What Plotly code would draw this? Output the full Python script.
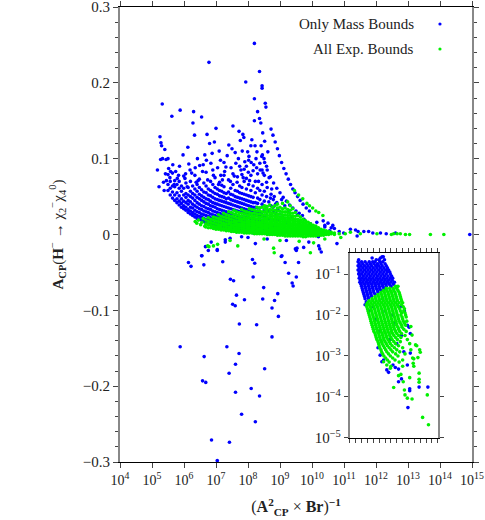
import plotly.graph_objects as go

# main panel: x given as log10 of (A_CP^2 x Br)^-1, y is A_CP
mass_scatter = [
    (5.17, 0.085), (5.22, 0.063), (5.25, 0.129), (5.28, 0.121), (5.30, 0.117), (5.33, 0.100),
    (5.27, 0.099), (5.36, 0.069), (5.32, 0.172), (5.40, 0.112), (5.42, 0.080), (5.38, 0.058),
    (5.44, 0.099), (5.50, 0.100), (5.52, 0.087), (5.56, 0.075), (5.62, 0.156), (5.65, 0.092),
    (5.74, 0.083), (5.79, 0.074), (5.86, 0.090), (5.88, 0.164), (5.97, 0.105), (6.03, 0.074),
    (6.12, 0.115), (6.15, 0.093), (6.24, 0.081), (6.28, 0.147), (6.30, 0.162), (6.33, 0.131),
    (6.42, 0.100), (6.44, 0.071), (6.55, 0.155), (6.58, 0.083), (6.65, 0.105), (6.72, 0.132),
    (6.74, 0.072), (6.78, 0.227), (6.80, 0.120), (6.84, 0.094), (6.92, 0.078), (6.95, 0.122),
    (7.00, 0.140), (7.05, 0.088), (7.14, 0.098), (7.20, 0.072), (7.27, 0.083), (7.35, 0.104),
    (7.47, 0.088), (7.53, 0.143), (7.57, 0.077), (7.62, 0.094), (7.72, 0.136), (7.76, 0.124),
    (7.78, 0.085), (7.84, 0.132), (7.87, 0.128), (7.90, 0.096), (7.93, 0.201), (7.99, 0.109),
    (8.01, 0.082), (8.03, 0.103), (8.09, 0.117), (8.12, 0.125), (8.18, 0.092), (8.20, 0.252),
    (8.20, 0.179), (8.20, 0.150), (8.22, 0.117), (8.28, 0.109), (8.30, 0.162), (8.36, 0.215),
    (8.36, 0.153), (8.38, 0.085), (8.40, 0.147), (8.41, 0.117), (8.43, 0.103), (8.44, 0.196),
    (8.44, 0.193), (8.46, 0.134), (8.52, 0.123), (8.54, 0.173), (8.56, 0.168), (8.58, 0.090),
    (8.62, 0.109), (8.66, 0.075),
    (6.90, 0.085), (7.10, 0.110), (7.25, 0.095), (7.40, 0.118), (7.60, 0.108), (7.70, 0.100),
    (7.95, 0.090), (8.10, 0.095), (8.25, 0.100), (8.50, 0.100), (6.60, 0.092), (6.35, 0.088),
    (6.05, 0.080), (7.15, 0.078), (7.45, 0.070), (7.85, 0.075), (8.33, 0.070), (8.60, 0.062),
    (5.45, 0.071), (5.58, 0.083), (5.69, 0.066), (5.83, 0.078), (6.10, 0.063), (6.19, 0.085),
    (6.38, 0.069), (6.49, 0.091), (6.70, 0.098), (6.88, 0.107), (7.08, 0.066), (7.31, 0.089),
    (7.50, 0.113), (7.66, 0.069), (7.82, 0.110), (8.05, 0.071), (8.27, 0.088), (8.47, 0.081),
    # outer arc
    (8.72, 0.139), (8.78, 0.131), (8.85, 0.122), (8.92, 0.113), (8.98, 0.104), (9.05, 0.095),
    (9.12, 0.087), (9.19, 0.080), (9.26, 0.073), (9.33, 0.066), (9.40, 0.060), (9.47, 0.055),
    (9.55, 0.050), (9.63, 0.045), (9.72, 0.040), (9.82, 0.035), (9.92, 0.031), (10.35, 0.018),
    (10.50, 0.015), (10.65, 0.012),
    # inner arc
    (8.45, 0.105), (8.52, 0.095), (8.60, 0.085), (8.70, 0.076), (8.80, 0.068), (8.90, 0.061),
    (9.00, 0.055), (9.10, 0.049), (9.20, 0.044), (9.30, 0.039), (9.40, 0.035), (9.50, 0.031),
    (9.60, 0.028), (9.70, 0.025),
    (8.70, 0.048), (8.74, 0.060), (8.78, 0.036), (8.82, 0.050), (8.86, 0.028), (8.90, 0.042),
    (8.95, 0.020), (9.05, 0.046), (9.15, 0.038), (9.25, 0.030), (9.35, 0.022), (9.55, 0.026),
    (9.65, 0.012), (9.75, 0.020), (9.85, 0.010), (9.95, 0.014), (10.05, 0.008), (10.15, 0.016),
    (10.25, 0.006), (10.40, 0.010), (10.55, 0.005), (10.70, 0.008), (10.85, 0.004), (9.60, 0.015),
    (9.90, 0.005), (10.20, -0.003), (10.40, 0.012),
    (10.99, 0.002), (11.20, 0.007), (11.36, 0.006), (11.41, -0.002), (11.44, 0.004), (11.62, 0.004),
    (11.77, 0.004), (11.90, 0.002), (12.14, 0.002), (12.32, 0.001), (12.61, 0.002), (14.93, 0.000),
    (10.78, -0.012), (10.60, 0.009),
    # negative side
    (6.14, -0.037), (6.22, -0.042), (6.55, -0.028), (6.62, -0.040), (6.76, -0.021), (7.04, -0.021),
    (7.21, -0.036), (7.45, -0.059), (7.55, -0.061), (7.64, -0.080), (7.52, -0.092), (7.60, -0.094),
    (7.89, -0.086), (7.73, -0.118), (8.14, -0.033), (8.21, -0.038), (8.16, -0.056), (8.49, -0.070),
    (8.27, -0.119), (8.46, -0.085), (8.83, -0.087), (8.93, -0.078), (8.75, -0.097), (8.95, -0.108),
    (8.75, -0.135), (9.04, -0.029), (9.16, -0.037), (9.27, -0.051), (9.38, -0.064), (9.41, -0.068),
    (9.51, -0.056), (9.58, -0.037), (9.51, -0.021), (10.29, -0.023), (5.88, -0.148), (6.63, -0.161),
    (6.58, -0.193), (6.68, -0.195), (6.86, -0.271), (7.04, -0.298), (7.42, -0.274), (7.34, -0.148),
    (7.41, -0.183), (7.72, -0.157), (7.61, -0.171), (7.61, -0.208), (7.80, -0.237), (8.10, -0.203),
    (8.36, -0.213), (8.23, -0.247), (8.52, -0.177),
    (6.67, -0.016), (6.85, -0.010), (7.29, -0.007), (7.44, -0.005), (9.53, -0.018), (7.04, -0.020),
    (6.56, -0.028), (7.29, -0.010), (9.06, -0.028), (8.23, -0.012), (9.48, -0.019), (9.74, -0.017),
    (10.21, -0.015), (10.24, -0.019), (8.00, -0.004), (8.60, -0.006), (9.20, -0.008), (9.90, -0.010),
    (7.80, -0.003),
]

mass_band = {
    5.50: [0.058, 0.066, 0.079],
    5.57: [0.052, 0.061, 0.070],
    5.64: [0.048, 0.056, 0.064, 0.081],
    5.71: [0.045, 0.052, 0.063, 0.071],
    5.78: [0.042, 0.047, 0.055, 0.066],
    5.85: [0.039, 0.044, 0.051, 0.061, 0.070],
    5.92: [0.036, 0.041, 0.047, 0.057, 0.064],
    5.99: [0.034, 0.038, 0.044, 0.052, 0.061, 0.077],
    6.06: [0.032, 0.036, 0.042, 0.049, 0.054, 0.068],
    6.13: [0.029, 0.033, 0.040, 0.045, 0.052, 0.062],
    6.20: [0.027, 0.031, 0.036, 0.043, 0.050, 0.057, 0.070],
    6.27: [0.025, 0.029, 0.035, 0.040, 0.048, 0.054, 0.064],
    6.34: [0.023, 0.027, 0.032, 0.038, 0.045, 0.052, 0.060, 0.078],
    6.41: [0.021, 0.025, 0.030, 0.036, 0.042, 0.049, 0.057, 0.066],
    6.48: [0.020, 0.024, 0.029, 0.034, 0.040, 0.047, 0.053, 0.062, 0.073],
    6.55: [0.019, 0.023, 0.027, 0.033, 0.038, 0.045, 0.051, 0.059],
    6.62: [0.017, 0.021, 0.026, 0.031, 0.037, 0.043, 0.049, 0.056, 0.068],
    6.69: [0.016, 0.020, 0.025, 0.030, 0.035, 0.041, 0.047, 0.055, 0.064, 0.082],
    6.76: [0.014, 0.019, 0.024, 0.029, 0.034, 0.040, 0.046, 0.052, 0.060],
    6.83: [0.013, 0.018, 0.022, 0.027, 0.033, 0.038, 0.044, 0.051, 0.058, 0.070],
    6.90: [0.012, 0.016, 0.021, 0.026, 0.031, 0.037, 0.042, 0.049, 0.056, 0.066],
    6.97: [0.011, 0.015, 0.020, 0.025, 0.030, 0.036, 0.041, 0.047, 0.054, 0.062, 0.075],
    7.04: [0.010, 0.014, 0.019, 0.024, 0.029, 0.034, 0.040, 0.046, 0.053, 0.060],
    7.11: [0.009, 0.013, 0.018, 0.023, 0.028, 0.033, 0.039, 0.045, 0.051, 0.058, 0.069],
    7.18: [0.008, 0.012, 0.017, 0.022, 0.027, 0.032, 0.038, 0.044, 0.050, 0.057, 0.065],
    7.25: [0.008, 0.011, 0.016, 0.021, 0.026, 0.031, 0.037, 0.043, 0.049, 0.055, 0.063, 0.078],
    7.32: [0.007, 0.011, 0.015, 0.020, 0.025, 0.030, 0.036, 0.042, 0.047, 0.054],
    7.39: [0.006, 0.010, 0.014, 0.019, 0.024, 0.029, 0.035, 0.041, 0.048, 0.056, 0.072],
    7.46: [0.006, 0.009, 0.013, 0.018, 0.023, 0.028, 0.034, 0.040, 0.046, 0.053, 0.061],
    7.53: [0.005, 0.009, 0.013, 0.017, 0.022, 0.027, 0.033, 0.039, 0.045, 0.052, 0.066, 0.080],
    7.60: [0.005, 0.008, 0.012, 0.016, 0.021, 0.026, 0.032, 0.038, 0.044, 0.050, 0.058],
    7.67: [0.004, 0.008, 0.011, 0.016, 0.020, 0.025, 0.031, 0.037, 0.043, 0.049, 0.057, 0.076],
    7.74: [0.004, 0.007, 0.011, 0.015, 0.019, 0.024, 0.030, 0.036, 0.042, 0.048, 0.055, 0.064, 0.090],
    7.81: [0.004, 0.007, 0.010, 0.014, 0.019, 0.024, 0.029, 0.035, 0.041, 0.047, 0.054, 0.062, 0.079],
    7.88: [0.003, 0.006, 0.010, 0.014, 0.018, 0.023, 0.028, 0.034, 0.040, 0.046, 0.053, 0.070, 0.086],
    7.95: [0.003, 0.006, 0.009, 0.013, 0.018, 0.022, 0.027, 0.033, 0.039, 0.045, 0.052, 0.060, 0.074],
    8.02: [0.003, 0.006, 0.009, 0.013, 0.017, 0.022, 0.027, 0.032, 0.038, 0.044, 0.051, 0.066, 0.098],
    8.09: [0.003, 0.005, 0.009, 0.012, 0.017, 0.021, 0.026, 0.031, 0.037, 0.043, 0.050, 0.058, 0.078],
    8.16: [0.002, 0.005, 0.008, 0.012, 0.016, 0.021, 0.026, 0.031, 0.036, 0.042, 0.049, 0.064, 0.084],
    8.23: [0.002, 0.005, 0.008, 0.011, 0.016, 0.020, 0.025, 0.030, 0.036, 0.042, 0.055, 0.070],
    8.30: [0.002, 0.005, 0.008, 0.011, 0.015, 0.020, 0.025, 0.030, 0.035, 0.041, 0.048, 0.061, 0.080],
    8.37: [0.002, 0.004, 0.007, 0.011, 0.015, 0.019, 0.024, 0.029, 0.035, 0.046, 0.058, 0.094],
    8.44: [0.002, 0.004, 0.007, 0.010, 0.014, 0.019, 0.024, 0.029, 0.040, 0.052, 0.066, 0.085],
    8.51: [0.002, 0.004, 0.007, 0.010, 0.014, 0.018, 0.023, 0.033, 0.044, 0.057, 0.078],
    8.58: [0.002, 0.004, 0.007, 0.010, 0.013, 0.018, 0.026, 0.037, 0.050, 0.069],
    8.65: [0.001, 0.004, 0.006, 0.009, 0.013, 0.020, 0.031, 0.043],
    8.72: [0.001, 0.003, 0.006, 0.009, 0.015, 0.025, 0.038, 0.053],
    8.79: [0.001, 0.003, 0.006, 0.011, 0.019, 0.030, 0.046],
    8.86: [0.001, 0.003, 0.008, 0.015, 0.024, 0.040],
    8.93: [0.001, 0.004, 0.010, 0.019, 0.033],
    9.00: [0.001, 0.006, 0.014, 0.027],
    9.10: [0.002, 0.009, 0.022],
    9.20: [0.004, 0.016],
    9.30: [0.002, 0.011],
    9.40: [0.007],
    9.50: [0.004],
}

exp_scatter = [
    (6.35, 0.017), (6.40, 0.015), (6.45, 0.019), (6.52, 0.013), (6.56, 0.016), (6.60, 0.021),
    (6.65, 0.011),
    (9.45, 0.058), (9.58, 0.052), (9.71, 0.047), (9.84, 0.041), (9.92, 0.038), (10.02, 0.035),
    (10.12, 0.031), (10.21, 0.029), (10.34, 0.025),
    (6.74, -0.015), (6.78, -0.016), (6.92, -0.015), (7.05, -0.013), (7.44, -0.008), (7.68, -0.015),
    (8.80, -0.018), (8.82, -0.024), (9.95, -0.024), (10.05, -0.011), (8.50, -0.006), (9.00, -0.008),
    (9.60, -0.009), (10.40, -0.006), (10.90, -0.004),
    (11.04, 0.001), (11.20, 0.003), (11.51, 0.001), (12.03, 0.001), (12.48, 0.000), (12.55, 0.001),
    (12.66, 0.001), (12.76, 0.001), (12.92, 0.000), (13.05, 0.000), (13.70, 0.000), (14.12, 0.000),
]

exp_band = {
    6.68: [0.010, 0.014, 0.019],
    6.76: [0.009, 0.013, 0.017, 0.022],
    6.84: [0.009, 0.012, 0.016, 0.020],
    6.92: [0.008, 0.011, 0.015, 0.019, 0.023],
    7.00: [0.007, 0.010, 0.014, 0.018, 0.022],
    7.08: [0.007, 0.010, 0.013, 0.017, 0.021, 0.026],
    7.16: [0.006, 0.009, 0.012, 0.016, 0.020, 0.024],
    7.24: [0.006, 0.008, 0.012, 0.015, 0.019, 0.023, 0.028],
    7.32: [0.005, 0.008, 0.011, 0.014, 0.018, 0.022, 0.026],
    7.40: [0.005, 0.007, 0.010, 0.014, 0.017, 0.021, 0.025, 0.030],
    7.48: [0.004, 0.007, 0.010, 0.013, 0.016, 0.020, 0.024, 0.029],
    7.56: [0.004, 0.006, 0.009, 0.012, 0.016, 0.019, 0.023, 0.027, 0.032],
    7.64: [0.003, 0.006, 0.009, 0.012, 0.015, 0.018, 0.022, 0.026, 0.030],
    7.72: [0.003, 0.005, 0.008, 0.011, 0.014, 0.018, 0.021, 0.025, 0.029],
    7.80: [0.003, 0.005, 0.008, 0.011, 0.014, 0.017, 0.020, 0.024, 0.028, 0.033],
    7.88: [0.002, 0.005, 0.007, 0.010, 0.013, 0.016, 0.020, 0.023, 0.027, 0.031],
    7.96: [0.002, 0.004, 0.007, 0.010, 0.013, 0.016, 0.019, 0.022, 0.026, 0.030],
    8.04: [0.002, 0.004, 0.007, 0.009, 0.012, 0.015, 0.018, 0.022, 0.025, 0.029, 0.034],
    8.12: [0.002, 0.004, 0.006, 0.009, 0.012, 0.015, 0.018, 0.021, 0.025, 0.028, 0.033],
    8.20: [0.001, 0.004, 0.006, 0.009, 0.011, 0.014, 0.017, 0.021, 0.024, 0.028, 0.032],
    8.28: [0.001, 0.003, 0.006, 0.008, 0.011, 0.014, 0.017, 0.020, 0.024, 0.027, 0.031, 0.036],
    8.36: [0.001, 0.003, 0.006, 0.008, 0.011, 0.014, 0.016, 0.020, 0.023, 0.027, 0.031, 0.035],
    8.44: [0.001, 0.003, 0.005, 0.008, 0.010, 0.013, 0.016, 0.019, 0.023, 0.026, 0.030, 0.036],
    8.52: [0.001, 0.003, 0.005, 0.008, 0.010, 0.013, 0.016, 0.019, 0.022, 0.026, 0.030, 0.034, 0.038],
    8.60: [0.000, 0.003, 0.005, 0.007, 0.010, 0.013, 0.016, 0.019, 0.022, 0.025, 0.029, 0.033, 0.037],
    8.68: [0.000, 0.002, 0.005, 0.007, 0.010, 0.012, 0.015, 0.018, 0.022, 0.025, 0.029, 0.033, 0.039],
    8.76: [0.000, 0.002, 0.005, 0.007, 0.009, 0.012, 0.015, 0.018, 0.021, 0.025, 0.028, 0.032, 0.036],
    8.84: [0.000, 0.002, 0.004, 0.007, 0.009, 0.012, 0.015, 0.018, 0.021, 0.024, 0.028, 0.032, 0.038],
    8.92: [-0.001, 0.002, 0.004, 0.007, 0.009, 0.012, 0.014, 0.017, 0.021, 0.024, 0.027, 0.031, 0.035, 0.040],
    9.00: [-0.001, 0.002, 0.004, 0.006, 0.009, 0.011, 0.014, 0.017, 0.020, 0.023, 0.027, 0.031, 0.036],
    9.08: [-0.001, 0.002, 0.004, 0.006, 0.009, 0.011, 0.014, 0.017, 0.020, 0.023, 0.026, 0.030, 0.034, 0.041],
    9.16: [-0.002, 0.001, 0.004, 0.006, 0.008, 0.011, 0.013, 0.016, 0.019, 0.022, 0.026, 0.030, 0.035],
    9.24: [-0.002, 0.001, 0.003, 0.006, 0.008, 0.010, 0.013, 0.016, 0.019, 0.022, 0.025, 0.029, 0.033, 0.043],
    9.32: [-0.002, 0.001, 0.003, 0.005, 0.008, 0.010, 0.013, 0.015, 0.018, 0.021, 0.025, 0.028, 0.032, 0.038],
    9.40: [-0.002, 0.001, 0.003, 0.005, 0.007, 0.010, 0.012, 0.015, 0.018, 0.021, 0.024, 0.028, 0.034],
    9.48: [-0.002, 0.001, 0.003, 0.005, 0.007, 0.009, 0.012, 0.014, 0.017, 0.020, 0.024, 0.029],
    9.56: [-0.002, 0.000, 0.002, 0.005, 0.007, 0.009, 0.011, 0.014, 0.017, 0.020, 0.025],
    9.64: [-0.002, 0.000, 0.002, 0.004, 0.006, 0.009, 0.011, 0.013, 0.016, 0.019, 0.023],
    9.72: [-0.003, 0.000, 0.002, 0.004, 0.006, 0.008, 0.010, 0.013, 0.016, 0.020],
    9.80: [-0.003, 0.000, 0.002, 0.004, 0.006, 0.008, 0.010, 0.012, 0.015, 0.018],
    9.88: [-0.002, 0.000, 0.002, 0.004, 0.005, 0.007, 0.009, 0.012, 0.016],
    9.96: [-0.002, 0.000, 0.002, 0.003, 0.005, 0.007, 0.009, 0.011, 0.014],
    10.04: [-0.002, 0.000, 0.001, 0.003, 0.005, 0.007, 0.009, 0.012],
    10.12: [-0.002, 0.000, 0.001, 0.003, 0.005, 0.006, 0.008, 0.011],
    10.20: [-0.001, 0.000, 0.001, 0.003, 0.004, 0.006, 0.009],
    10.28: [-0.001, 0.000, 0.002, 0.003, 0.004, 0.007],
    10.36: [-0.001, 0.001, 0.002, 0.004, 0.006],
    10.44: [0.000, 0.001, 0.003, 0.005],
    10.52: [0.000, 0.002, 0.004],
    10.60: [0.001, 0.003],
    10.70: [0.000, 0.002],
    10.85: [0.001],
}

# inset: rows keyed by log10|A_CP|, values are positions along the (unlabelled) x axis
inset_mass_rows = {
    -0.58: [5.7, 5.5],
    -0.61: [3.8, 5.2],
    -0.65: [1.5, 4.5, 5.0, 5.9],
    -0.70: [1.4, 2.0, 2.6, 3.3, 3.9, 4.3, 5.1, 5.6],
    -0.75: [1.6, 2.2, 2.9, 3.5, 4.1, 4.7, 5.3, 6.0],
    -0.80: [1.4, 1.9, 2.5, 3.1, 3.7, 4.4, 4.9, 5.5, 6.2],
    -0.85: [1.6, 2.2, 2.8, 3.4, 4.0, 4.6, 5.2, 5.8, 6.4],
    -0.90: [1.4, 1.9, 2.5, 3.1, 3.7, 4.3, 4.9, 5.5, 6.1, 6.6],
    -0.95: [1.6, 2.2, 2.8, 3.4, 4.0, 4.6, 5.2, 5.8, 6.4, 6.8],
    -1.00: [1.5, 2.0, 2.6, 3.2, 3.8, 4.4, 5.0, 5.6, 6.2, 6.9],
    -1.05: [1.7, 2.3, 2.9, 3.5, 4.1, 4.7, 5.3, 5.9, 6.5, 7.1],
    -1.10: [1.6, 2.1, 2.7, 3.3, 3.9, 4.5, 5.1, 5.7, 6.3, 6.9, 7.3],
    -1.15: [1.8, 2.4, 3.0, 3.6, 4.2, 4.8, 5.4, 6.0, 6.6, 7.2],
    -1.20: [1.7, 2.2, 2.8, 3.4, 4.0, 4.6, 5.2, 5.8, 6.4, 7.0, 7.6],
    -1.25: [1.9, 2.5, 3.1, 3.7, 4.3, 4.9, 5.5, 6.1, 6.7, 7.4],
    -1.30: [2.0, 2.6, 3.2, 3.8, 4.4, 5.0, 5.6, 6.2, 7.0],
    -1.35: [2.1, 2.7, 3.3, 3.9, 4.5, 5.1, 5.8],
    -1.40: [2.2, 2.8, 3.4, 4.0, 4.7, 5.3],
    -1.45: [2.3, 2.9, 3.5, 4.1, 4.8],
    -1.50: [2.4, 3.0, 3.6, 4.3],
    -1.55: [2.5, 3.1, 3.7],
    -1.60: [2.6, 3.2],
    -1.68: [2.8],
}

inset_mass_scatter = [
    (3.2, -1.9), (4.5, -2.1), (6.0, -1.9), (7.5, -2.2), (8.6, -1.8), (9.3, -1.9), (9.8, -2.25),
    (10.1, -2.3), (5.0, -2.4), (6.8, -2.6), (8.8, -2.5), (10.3, -2.45), (9.2, -2.9), (4.8, -2.8),
    (5.17, -2.98), (5.46, -3.14), (5.75, -3.10), (6.3, -3.34), (6.6, -3.40), (7.35, -3.22),
    (7.75, -3.28), (8.3, -3.32), (8.3, -3.63), (8.8, -3.56), (9.8, -3.22), (10.3, -2.93),
    (9.9, -4.26), (10.2, -3.80), (10.2, -3.85), (11.8, -3.76), (13.3, -3.76), (7.2, -2.0),
    (8.0, -2.7), (2.6, -1.75), (5.6, -1.6), (4.0, -1.8),
]

inset_exp_rows = {
    -1.30: [7.8, 8.2],
    -1.35: [6.2, 6.8, 7.4, 8.0],
    -1.40: [5.7, 6.3, 6.9, 7.5, 8.2],
    -1.45: [5.3, 5.9, 6.5, 7.1, 7.7, 8.4],
    -1.50: [4.8, 5.4, 6.0, 6.6, 7.2, 7.8, 8.5],
    -1.55: [4.3, 4.9, 5.5, 6.1, 6.7, 7.3, 7.9, 8.6],
    -1.60: [3.8, 4.4, 5.0, 5.6, 6.2, 6.8, 7.4, 8.0, 8.7],
    -1.65: [3.3, 3.9, 4.5, 5.1, 5.7, 6.3, 6.9, 7.5, 8.1, 8.8],
    -1.70: [3.0, 3.6, 4.2, 4.8, 5.4, 6.0, 6.6, 7.2, 7.8, 8.4, 9.0],
    -1.75: [2.8, 3.3, 3.9, 4.5, 5.1, 5.7, 6.3, 6.9, 7.5, 8.1, 8.8],
    -1.80: [2.9, 3.5, 4.1, 4.7, 5.3, 5.9, 6.5, 7.1, 7.7, 8.3, 9.1],
    -1.85: [3.0, 3.6, 4.2, 4.8, 5.4, 6.0, 6.6, 7.2, 7.8, 8.5, 9.3],
    -1.90: [3.1, 3.7, 4.3, 4.9, 5.5, 6.1, 6.7, 7.3, 7.9, 8.6, 9.2],
    -1.95: [3.2, 3.8, 4.4, 5.0, 5.6, 6.2, 6.8, 7.4, 8.0, 8.8, 9.4],
    -2.00: [3.3, 3.9, 4.5, 5.1, 5.7, 6.3, 6.9, 7.5, 8.1, 8.7, 9.5],
    -2.05: [3.4, 4.0, 4.6, 5.2, 5.8, 6.4, 7.0, 7.6, 8.2, 8.9, 9.6],
    -2.10: [3.5, 4.1, 4.7, 5.3, 5.9, 6.5, 7.1, 7.7, 8.3, 9.0],
    -2.15: [3.6, 4.2, 4.8, 5.4, 6.0, 6.6, 7.2, 7.8, 8.4, 9.1, 9.7],
    -2.20: [3.7, 4.3, 4.9, 5.5, 6.1, 6.7, 7.3, 7.9, 8.6, 9.3],
    -2.25: [3.8, 4.4, 5.0, 5.6, 6.2, 6.8, 7.4, 8.0, 8.8, 9.5],
    -2.30: [3.9, 4.5, 5.1, 5.7, 6.3, 6.9, 7.5, 8.2, 8.9],
    -2.35: [4.0, 4.6, 5.2, 5.8, 6.4, 7.0, 7.6, 8.3, 9.2],
    -2.40: [4.1, 4.7, 5.3, 5.9, 6.5, 7.1, 7.8, 8.5, 9.6],
    -2.45: [4.3, 4.9, 5.5, 6.1, 6.7, 7.3, 8.0, 8.8],
    -2.50: [4.4, 5.0, 5.6, 6.2, 6.8, 7.5, 8.3, 9.4],
    -2.55: [4.5, 5.1, 5.7, 6.3, 7.0, 7.8, 8.7],
    -2.60: [4.6, 5.2, 5.8, 6.5, 7.2, 8.1, 9.8],
    -2.65: [4.8, 5.4, 6.0, 6.7, 7.5, 8.6],
    -2.70: [4.9, 5.5, 6.2, 6.9, 7.8, 10.2],
    -2.75: [5.0, 5.7, 6.4, 7.2, 8.3],
    -2.80: [5.1, 5.9, 6.7, 7.6, 9.0],
    -2.85: [5.3, 6.1, 7.0, 8.0, 10.4],
    -2.90: [5.4, 6.3, 7.3, 8.5],
    -2.95: [5.6, 6.6, 7.8, 9.4],
    -3.00: [5.8, 6.9, 8.2],
    -3.05: [6.1, 7.3, 10.7],
    -3.10: [6.4, 7.7, 9.0],
    -3.15: [6.7, 8.4],
    -3.25: [7.0, 9.0, 10.9],
}

inset_exp_scatter = [
    (7.47, -3.77), (8.3, -3.48), (8.7, -3.45), (9.1, -3.63), (9.3, -3.83), (9.4, -3.95),
    (9.8, -4.03), (10.6, -4.05), (10.2, -3.53), (11.8, -3.42), (11.8, -3.57), (11.8, -3.64),
    (13.2, -3.95), (12.4, -4.50), (13.4, -4.68), (10.8, -3.18), (10.9, -3.07), (11.9, -2.85),
    (12.0, -2.91), (11.6, -3.04), (11.2, -2.73), (11.4, -2.75), (6.3, -3.22), (5.75, -3.14),
    (6.9, -3.30), (10.6, -2.49), (10.4, -2.28),
]

acp_ticks = [-0.3, -0.2, -0.1, 0, 0.1, 0.2, 0.3]
acp_labels = ["−0.3", "−0.2", "−0.1", "0", "0.1", "0.2", "0.3"]
x_decades = list(range(4, 16))
inset_decades = [-5, -4, -3, -2, -1]

BLUE = "#0000ff"
GREEN = "#00f000"
FONT = "Liberation Serif"


def unpack(points, columns):
    xs = [p[0] for p in points]
    ys = [p[1] for p in points]
    for x, vals in columns.items():
        for v in vals:
            xs.append(x)
            ys.append(v)
    return xs, ys


def unpack_rows(points, rows):
    xs = [p[0] for p in points]
    ys = [p[1] for p in points]
    for y, vals in rows.items():
        for v in vals:
            xs.append(v)
            ys.append(y)
    return xs, ys


def power_label(n):
    return "10<sup>" + str(n).replace("-", "−") + "</sup>"


mx, my = unpack(mass_scatter, mass_band)
ex, ey = unpack(exp_scatter, exp_band)
imx, imy = unpack_rows(inset_mass_scatter, inset_mass_rows)
iex, iey = unpack_rows(inset_exp_scatter, inset_exp_rows)

fig = go.Figure()
fig.add_trace(go.Scatter(x=[10 ** v for v in mx], y=my, mode="markers",
                         marker=dict(color=BLUE, size=3.6), showlegend=False))
fig.add_trace(go.Scatter(x=[10 ** v for v in ex], y=ey, mode="markers",
                         marker=dict(color=GREEN, size=3.6), showlegend=False))
fig.add_trace(go.Scatter(x=imx, y=[10 ** v for v in imy], mode="markers",
                         marker=dict(color=BLUE, size=3.6), showlegend=False,
                         xaxis="x2", yaxis="y2"))
fig.add_trace(go.Scatter(x=iex, y=[10 ** v for v in iey], mode="markers",
                         marker=dict(color=GREEN, size=3.6), showlegend=False,
                         xaxis="x2", yaxis="y2"))

fig.update_layout(
    width=485, height=520,
    margin=dict(l=120, r=13, t=7, b=58),
    paper_bgcolor="white", plot_bgcolor="white",
    font=dict(family=FONT, size=15, color="#222"),
    xaxis=dict(
        type="log", range=[4, 15], automargin=False,
        tickvals=[10 ** d for d in x_decades], ticktext=[power_label(d) for d in x_decades],
        tickangle=0, tickfont=dict(size=14), ticklabeloverflow="allow",
        showgrid=False, zeroline=False,
        showline=True, linecolor="black", linewidth=1, mirror="allticks",
        ticks="outside", ticklen=5, tickcolor="#444",
        title=dict(text="(<b>A</b><sup><b>2</b></sup><sub><b>CP</b></sub> × <b>Br</b>)<sup><b>−1</b></sup>",
                   font=dict(size=16), standoff=14),
    ),
    yaxis=dict(
        range=[-0.3, 0.3], automargin=False,
        tickvals=acp_ticks, ticktext=acp_labels, tickfont=dict(size=15),
        ticklabeloverflow="allow",
        showgrid=False, zeroline=False,
        showline=True, linecolor="#888", linewidth=2, mirror="allticks",
        ticks="outside", ticklen=5, tickcolor="#444",
        minor=dict(dtick=0.02, ticks="outside", ticklen=3, tickcolor="#444"),
        title=dict(text="<b>A</b><sub><b>CP</b></sub>(<b>H</b><sup>−</sup> → χ<sub>2</sub><sup>−</sup>χ<sub>4</sub><sup>0</sup>)",
                   font=dict(size=15), standoff=16),
    ),
    xaxis2=dict(
        domain=[0.653, 0.903], anchor="y2", range=[0, 15], dtick=1, automargin=False,
        showticklabels=False, showgrid=False, zeroline=False,
        showline=True, linecolor="black", linewidth=1, mirror="allticks",
        ticks="outside", ticklen=4, tickcolor="#444",
    ),
    yaxis2=dict(
        domain=[0.053, 0.459], anchor="x2", type="log", range=[-5, -0.49], automargin=False,
        tickvals=[10 ** d for d in inset_decades], ticktext=[power_label(d) for d in inset_decades],
        showgrid=False, zeroline=False,
        showline=True, linecolor="#888", linewidth=2, mirror="allticks",
        ticks="outside", ticklen=4, tickcolor="#444",
        tickfont=dict(size=15),
    ),
)

# legend drawn gnuplot style: text right-aligned, marker to its right
for label, color, yy in [("Only Mass Bounds", BLUE, 0.9626), ("All Exp. Bounds", GREEN, 0.9077)]:
    fig.add_annotation(x=0.841, y=yy, xref="paper", yref="paper", text=label,
                       showarrow=False, xanchor="right", yanchor="middle",
                       font=dict(size=15, color="#222"))
    fig.add_shape(type="circle", xref="paper", yref="paper", xsizemode="pixel", ysizemode="pixel",
                  xanchor=0.909, yanchor=yy, x0=-1.6, x1=1.6, y0=-1.6, y1=1.6,
                  fillcolor=color, line=dict(width=0))

# drop the default page margin so the figure sits at the window's top-left corner
fig.write_html("out.html", config={"displayModeBar": False},
               post_script="document.body.style.margin = '0';")
